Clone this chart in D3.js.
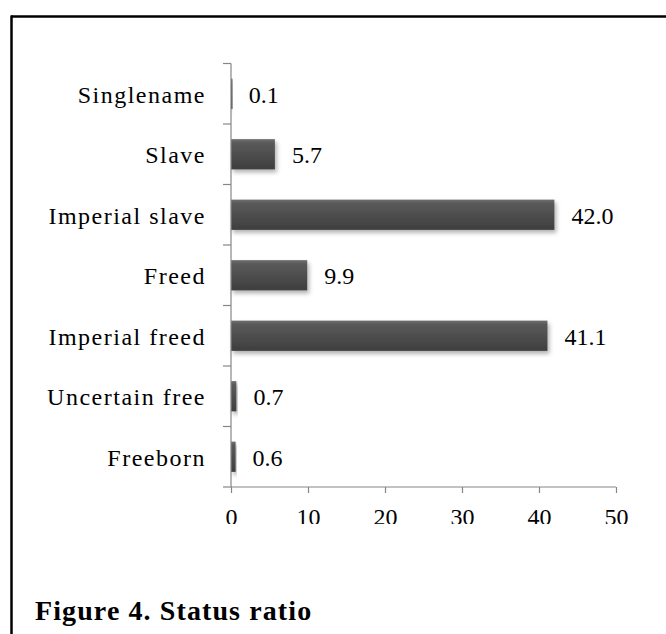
<!DOCTYPE html>
<html>
<head>
<meta charset="utf-8">
<script src="https://cdn.jsdelivr.net/npm/d3@7"></script>
<style>
  body { margin: 0; background: #fff; }
  svg { display: block; }
  svg text { font-family: "Liberation Serif", "Times New Roman", Times, serif; }
</style>
</head>
<body>
<svg id="chart" width="666" height="634"></svg>
<script>
// status categories, top to bottom, and their share (%)
const categories = ["Singlename", "Slave", "Imperial slave", "Freed", "Imperial freed", "Uncertain free", "Freeborn"];
const values = [0.1, 5.7, 42.0, 9.9, 41.1, 0.7, 0.6];
const xTicks = [0, 10, 20, 30, 40, 50];
const caption = "Figure 4. Status ratio";

const svg = d3.select("#chart"),
    width = +svg.attr("width"),
    height = +svg.attr("height");

const axisColor = "#868686";

// frame lines (top + left only, like the page crop)
svg.append("line")
    .attr("x1", 11).attr("x2", width).attr("y1", 16.5).attr("y2", 16.5)
    .attr("stroke", "#000").attr("stroke-width", 2.5);
svg.append("line")
    .attr("x1", 11.5).attr("x2", 11.5).attr("y1", 15.5).attr("y2", height)
    .attr("stroke", "#000").attr("stroke-width", 2.5);

const defs = svg.append("defs");
const grad = defs.append("linearGradient")
    .attr("id", "barGrad").attr("x1", 0).attr("y1", 0).attr("x2", 0).attr("y2", 1);
grad.append("stop").attr("offset", "0%").attr("stop-color", "#707070");
grad.append("stop").attr("offset", "12%").attr("stop-color", "#5a5a5a");
grad.append("stop").attr("offset", "100%").attr("stop-color", "#3e3e3e");

const shadow = defs.append("filter").attr("id", "shadow")
    .attr("x", "-20%").attr("y", "-30%").attr("width", "140%").attr("height", "170%");
shadow.append("feDropShadow")
    .attr("dx", 2).attr("dy", 3).attr("stdDeviation", 2)
    .attr("flood-color", "#000").attr("flood-opacity", 0.3);

const x = d3.scaleLinear().domain([0, 50]).range([231, 616]);
const y = d3.scaleBand().domain(categories).range([63.5, 487]).paddingInner(0.5).paddingOuter(0.25);

const yTop = y.range()[0], yBottom = y.range()[1];

// tick labels are cut off at the bottom in the source image
defs.append("clipPath").attr("id", "tickClip")
    .append("rect").attr("x", -50).attr("y", -yBottom).attr("width", width + 100).attr("height", 524);

const g = svg.append("g");

// bars
g.append("g")
    .selectAll("rect")
    .data(values)
    .enter().append("rect")
    .attr("x", x(0))
    .attr("y", (d, i) => y(categories[i]))
    .attr("width", d => Math.max(x(d) - x(0), 1.5))
    .attr("height", y.bandwidth())
    .attr("fill", "url(#barGrad)")
    .attr("filter", "url(#shadow)");

// value labels
g.append("g")
    .selectAll("text")
    .data(values)
    .enter().append("text")
    .attr("x", d => x(d) + 17)
    .attr("y", (d, i) => y(categories[i]) + y.bandwidth() / 2 + 9)
    .attr("font-size", 24)
    .attr("fill", "#000")
    .text(d => d3.format(".1f")(d));

// y axis: line + ticks at band boundaries
const step = y.step();
g.append("line")
    .attr("x1", x(0)).attr("x2", x(0)).attr("y1", yTop).attr("y2", yBottom)
    .attr("stroke", axisColor).attr("stroke-width", 1.2);
g.append("g")
    .selectAll("line")
    .data(d3.range(categories.length + 1))
    .enter().append("line")
    .attr("x1", x(0) - 8).attr("x2", x(0))
    .attr("y1", i => yTop + i * step).attr("y2", i => yTop + i * step)
    .attr("stroke", axisColor).attr("stroke-width", 1.2);

// category labels
g.append("g")
    .selectAll("text")
    .data(categories)
    .enter().append("text")
    .attr("x", x(0) - 25)
    .attr("y", d => y(d) + y.bandwidth() / 2 + 9)
    .attr("text-anchor", "end")
    .attr("font-size", 24)
    .attr("letter-spacing", 1.5)
    .attr("fill", "#000")
    .text(d => d);

// x axis
const xAxis = d3.axisBottom(x).tickValues(xTicks).tickSize(6).tickPadding(15).tickFormat(d3.format("d"));
const xg = g.append("g")
    .attr("transform", `translate(0,${yBottom})`)
    .call(xAxis);
xg.select(".domain").remove();
xg.append("line")
    .attr("x1", x(0)).attr("x2", x(50))
    .attr("stroke", axisColor).attr("stroke-width", 1.2);
xg.selectAll(".tick line").attr("stroke", axisColor).attr("stroke-width", 1.2);
xg.selectAll(".tick text")
    .attr("font-size", 24)
    .attr("fill", "#000")
    .attr("clip-path", "url(#tickClip)");
xg.attr("font-family", null);

// caption
svg.append("text")
    .attr("x", 35)
    .attr("y", 620)
    .attr("font-size", 28)
    .attr("font-weight", "bold")
    .attr("letter-spacing", 1.1)
    .attr("fill", "#000")
    .text(caption);
</script>
</body>
</html>
